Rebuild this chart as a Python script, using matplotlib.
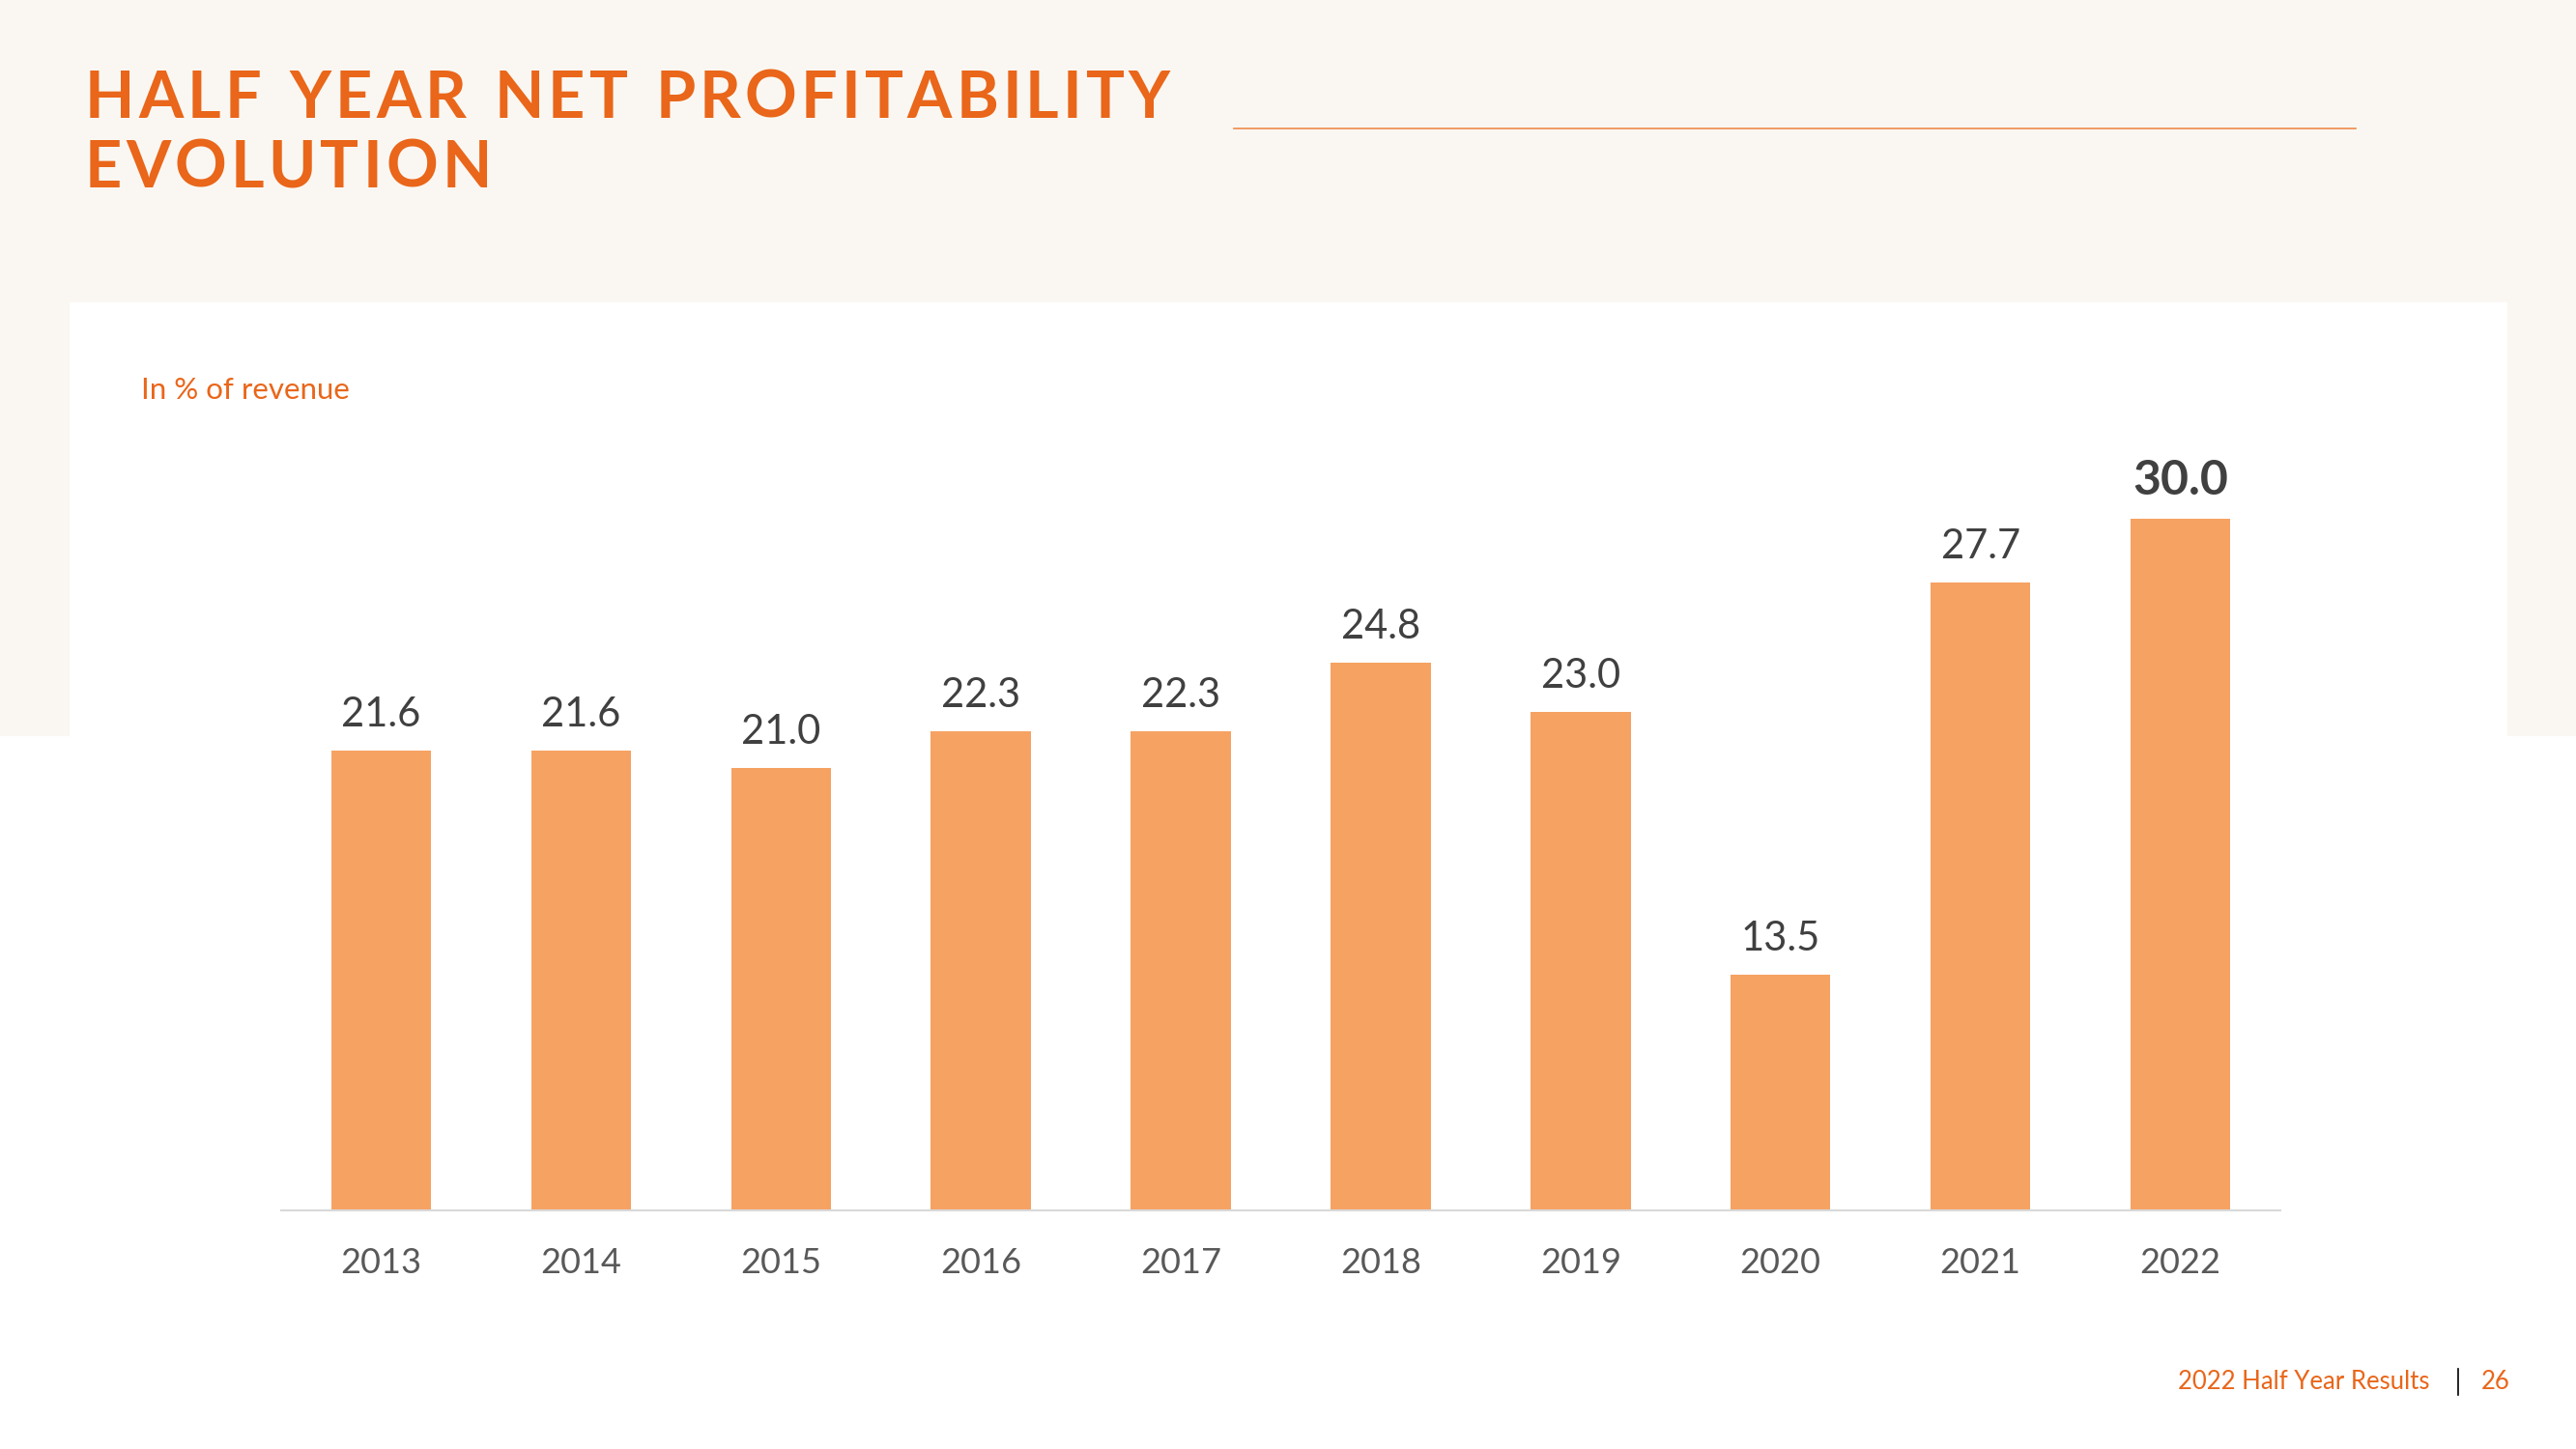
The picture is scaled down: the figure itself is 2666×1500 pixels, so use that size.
import matplotlib
matplotlib.use("Agg")
import matplotlib.pyplot as plt
from matplotlib.patches import Rectangle
from matplotlib.lines import Line2D

# data
years = ["2013", "2014", "2015", "2016", "2017", "2018", "2019", "2020", "2021", "2022"]
margins = [21.6, 21.6, 21.0, 22.3, 22.3, 24.8, 23.0, 13.5, 27.7, 30.0]
title_lines = ["HALF YEAR NET PROFITABILITY", "EVOLUTION"]
subtitle = "In % of revenue"
footer = "2022 Half Year Results"
page_no = "26"

ORANGE = "#E9661A"
BAR = "#F6A263"
CREAM = "#FAF7F2"
DARK = "#404040"
GRAY = "#595959"
FONT = "Lato"

W, H = 2666, 1500
fig = plt.figure(figsize=(W / 100, H / 100), dpi=100)
fig.patch.set_facecolor("white")


def fx(px):
    return px / W


def fy(py):
    return 1 - py / H


# background blocks
fig.patches.append(Rectangle((0, fy(762)), 1, 1 - fy(762), transform=fig.transFigure,
                             facecolor=CREAM, edgecolor="none", zorder=0))
fig.patches.append(Rectangle((fx(72), 0), fx(2595) - fx(72), fy(313), transform=fig.transFigure,
                             facecolor="white", edgecolor="none", zorder=1))

# title with letter spacing, drawn char by char
renderer = fig.canvas.get_renderer()


def char_widths(s, **kw):
    out = []
    for ch in s:
        t = fig.text(0, 0, ch if ch != " " else "n", **kw)
        bb = t.get_window_extent(renderer)
        out.append(bb.width * (0.55 if ch == " " else 1.0))
        t.remove()
    return out


tkw = dict(fontsize=48, fontweight="bold", family=FONT, color=ORANGE)
w1 = char_widths(title_lines[0], **tkw)
track = (1123 - sum(w1)) / (len(title_lines[0]) - 1)
for line, base_y in zip(title_lines, [122, 194]):
    widths = char_widths(line, **tkw)
    x = 88
    for ch, w in zip(line, widths):
        if ch != " ":
            fig.text(fx(x), fy(base_y), ch, ha="left", va="baseline", **tkw)
        x += w + track

fig.add_artist(Line2D([fx(1277), fx(2438)], [fy(133), fy(133)], transform=fig.transFigure,
                      color="#EE8A4A", lw=1.2))

fig.text(fx(146), fy(413), subtitle, ha="left", va="baseline",
         fontsize=22.5, family=FONT, color=ORANGE)

# chart
ymin, ymax = 5, 32
ax_h = (ymax - ymin) * 28.65
ax = fig.add_axes([fx(291), fy(1253), fx(2360) - fx(291), ax_h / H])
ax.set_facecolor("none")
ax.set_zorder(3)
x = list(range(len(years)))
ax.bar(x, margins, width=0.5, bottom=0, color=BAR, zorder=2)
ax.set_xlim(-0.5, len(years) - 0.5)
ax.set_ylim(ymin, ymax)
for s in ["top", "left", "right"]:
    ax.spines[s].set_visible(False)
ax.spines["bottom"].set_color("#D9D9D9")
ax.spines["bottom"].set_linewidth(1.5)
ax.set_yticks([])
ax.set_xticks(x)
ax.set_xticklabels(years, fontsize=26, family=FONT, color=GRAY)
ax.tick_params(axis="x", length=0, pad=27)

for i, v in enumerate(margins):
    last = i == len(margins) - 1
    ax.annotate(f"{v:.1f}", (i, v), xytext=(0, 18), textcoords="offset points",
                ha="center", va="baseline", family=FONT,
                fontsize=36 if last else 30,
                fontweight="bold" if last else "normal", color=DARK)

# footer
fig.text(fx(2515), fy(1438), footer, ha="right", va="baseline",
         fontsize=18.5, family=FONT, color=ORANGE)
fig.add_artist(Line2D([fx(2544), fx(2544)], [fy(1417), fy(1444)], transform=fig.transFigure,
                      color="black", lw=1.2))
fig.text(fx(2583), fy(1438), page_no, ha="center", va="baseline",
         fontsize=18.5, family=FONT, color=ORANGE)

fig.savefig("out.png", dpi=100)
